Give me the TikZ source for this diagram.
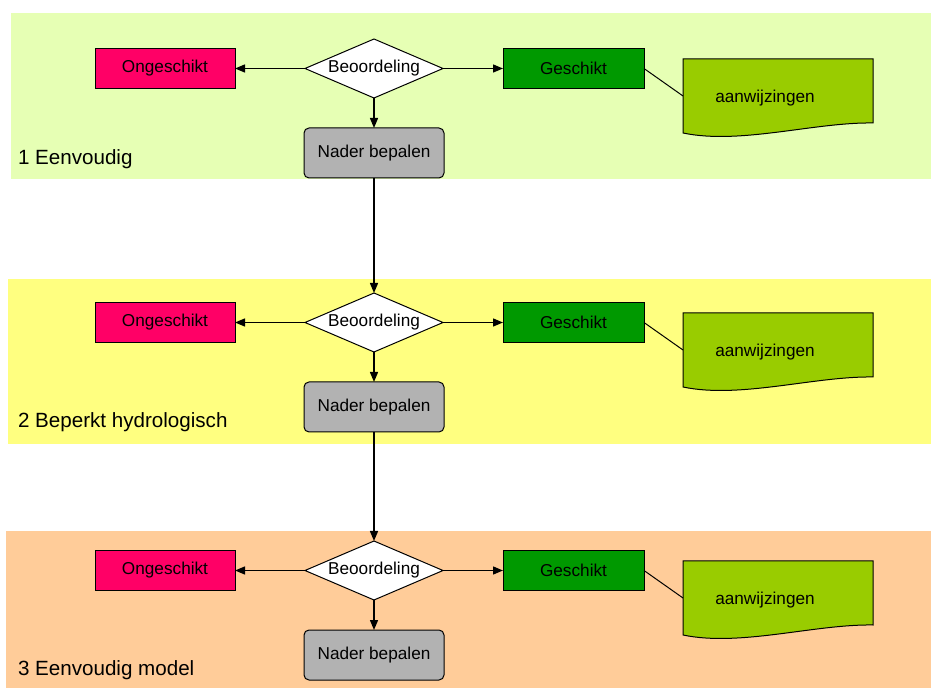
\documentclass[tikz,border=0pt]{standalone}
\usepackage{fontspec}
\setmainfont{Liberation Sans}
\usetikzlibrary{positioning,shapes.geometric,arrows.meta}

\definecolor{laag1}{HTML}{E6FFB4}
\definecolor{laag2}{HTML}{FFFF80}
\definecolor{laag3}{HTML}{FFCC99}
\definecolor{roze}{HTML}{FF0066}
\definecolor{groen}{HTML}{009900}
\definecolor{loof}{HTML}{99CC00}
\definecolor{grijs}{HTML}{B2B2B2}

\begin{document}
\begin{tikzpicture}
[x=1pt,y=1pt,
 every node/.style={inner sep=0pt,outer sep=0pt,font=\fontsize{17.2}{20}\selectfont},
 keuze/.style={draw=black,diamond,aspect=2.34,fill=white,minimum width=138pt,minimum height=59pt},
 fout/.style={draw=black,rectangle,fill=roze,minimum width=140pt,minimum height=40pt},
 goed/.style={draw=black,rectangle,fill=groen,minimum width=141pt,minimum height=40pt},
 nader/.style={draw=black,rectangle,rounded corners=5pt,fill=grijs,minimum width=140pt,minimum height=50pt},
 blad/.style={rectangle,minimum width=190pt,minimum height=74pt},
 bladrand/.style={draw=black,fill=loof},
 laag/.style={anchor=west,font=\fontsize{20.6}{24}\selectfont},
 pijl/.style={-{Triangle[length=10pt,width=8pt]},line width=1.4pt},
 line width=1pt]
\useasboundingbox (0,0) rectangle (931,688);
% achtergrond
\fill[laag1] (11,509) rectangle (931,675);
\fill[laag2] (8,244)  rectangle (931,409);
\fill[laag3] (6,0)    rectangle (931,157);
% 1 Eenvoudig
\node[keuze] (d1) at (374,619.5)                           {Beoordeling};
\node[fout]  (o1) [on grid,left=209pt of d1]               {Ongeschikt};
\node[goed]  (g1) [on grid,right=199.5pt of d1]            {Geschikt};
\node[nader] (n1) [on grid,below=84.5pt of d1]             {Nader bepalen};
\node[blad]  (w1) [on grid,below right=27.5pt and 404pt of d1] {};
\node[laag]  (l1) at (18,529)                              {1 Eenvoudig};
% 2 Beperkt hydrologisch
\node[keuze] (d2) [on grid,below=254pt of d1]              {Beoordeling};
\node[fout]  (o2) [on grid,left=209pt of d2]               {Ongeschikt};
\node[goed]  (g2) [on grid,right=199.5pt of d2]            {Geschikt};
\node[nader] (n2) [on grid,below=84.5pt of d2]             {Nader bepalen};
\node[blad]  (w2) [on grid,below right=27.5pt and 404pt of d2] {};
\node[laag]  (l2) at (18,265.5)                            {2 Beperkt hydrologisch};
% 3 Eenvoudig model
\node[keuze] (d3) [on grid,below=248pt of d2]              {Beoordeling};
\node[fout]  (o3) [on grid,left=209pt of d3]               {Ongeschikt};
\node[goed]  (g3) [on grid,right=199.5pt of d3]            {Geschikt};
\node[nader] (n3) [on grid,below=84.5pt of d3]             {Nader bepalen};
\node[blad]  (w3) [on grid,below right=27.5pt and 404pt of d3] {};
\node[laag]  (l3) at (18,18)                               {3 Eenvoudig model};
% aanwijzingen
\draw[bladrand] (w1.north west) -- (w1.north east) -- ([yshift=10pt]w1.south east)
  .. controls +(-58pt,1pt) and +(57pt,-12pt) .. (w1.south west) -- cycle;
\draw[bladrand] (w2.north west) -- (w2.north east) -- ([yshift=10pt]w2.south east)
  .. controls +(-58pt,1pt) and +(57pt,-12pt) .. (w2.south west) -- cycle;
\draw[bladrand] (w3.north west) -- (w3.north east) -- ([yshift=10pt]w3.south east)
  .. controls +(-58pt,1pt) and +(57pt,-12pt) .. (w3.south west) -- cycle;
\node (a1) at ([xshift=-13pt,yshift=-2pt]w1.center) {aanwijzingen};
\node (a2) at ([xshift=-13pt,yshift=-2pt]w2.center) {aanwijzingen};
\node (a3) at ([xshift=-13pt,yshift=-2pt]w3.center) {aanwijzingen};
% pijlen
\path[pijl] (d1) edge (o1.east) edge (g1.west) edge (n1.north);
\path[pijl] (d2) edge (o2.east) edge (g2.west) edge (n2.north);
\path[pijl] (d3) edge (o3.east) edge (g3.west) edge (n3.north);
\path[pijl] (n1) edge (d2.north);
\path[pijl] (n2) edge (d3.north);
\path (g1.east) edge (w1.west);
\path (g2.east) edge (w2.west);
\path (g3.east) edge (w3.west);
\end{tikzpicture}
\end{document}
